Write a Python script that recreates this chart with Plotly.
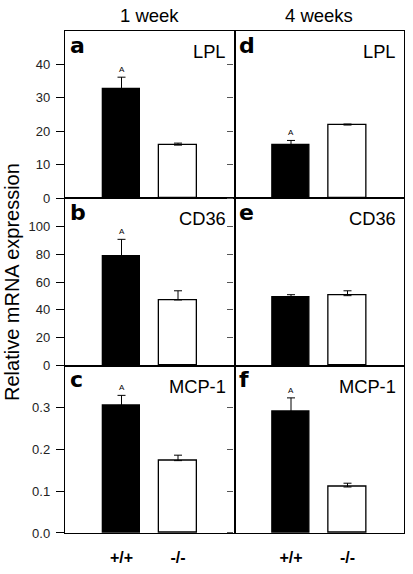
import plotly.graph_objects as go
from plotly.subplots import make_subplots

genes = ["LPL", "CD36", "MCP-1"]
groups = ["+/+", "-/-"]
columns = ["1 week", "4 weeks"]
letters_1wk = ["a", "b", "c"]
letters_4wk = ["d", "e", "f"]

wt_1wk = [32.8, 78.7, 0.305]
ko_1wk = [15.9, 47.1, 0.173]
wt_1wk_err = [3.4, 11.9, 0.024]
ko_1wk_err = [0.6, 6.6, 0.013]

wt_4wk = [16.0, 49.0, 0.290]
ko_4wk = [21.9, 50.2, 0.110]
wt_4wk_err = [1.3, 1.9, 0.033]
ko_4wk_err = [0.3, 3.5, 0.009]

sig_1wk = [True, True, True]
sig_4wk = [True, False, True]

y_ranges = [[0, 50], [0, 120], [0, 0.4]]
y_ticks = [[0, 10, 20, 30, 40], [0, 20, 40, 60, 80, 100], [0.0, 0.1, 0.2, 0.3]]
y_ticktext = [["0", "10", "20", "30", "40"], ["0", "20", "40", "60", "80", "100"],
              ["0.0", "0.1", "0.2", "0.3"]]

fig = make_subplots(rows=3, cols=2, horizontal_spacing=0, vertical_spacing=0)

cols_data = [
    (wt_1wk, ko_1wk, wt_1wk_err, ko_1wk_err, sig_1wk, letters_1wk),
    (wt_4wk, ko_4wk, wt_4wk_err, ko_4wk_err, sig_4wk, letters_4wk),
]

font_fam = "Liberation Sans, Arial, sans-serif"

for c, (wt, ko, wte, koe, sig, letters) in enumerate(cols_data):
    for r in range(3):
        row, col = r + 1, c + 1
        fig.add_trace(go.Bar(
            x=[1, 2], y=[wt[r], ko[r]], width=0.66,
            marker=dict(color=["black", "white"], line=dict(color="black", width=1.3)),
            error_y=dict(type="data", symmetric=False, array=[wte[r], koe[r]],
                         arrayminus=[0, 0], color="black", thickness=1, width=4),
            showlegend=False, hoverinfo="skip"), row=row, col=col)
        idx = r * 2 + c + 1
        xname = "x" if idx == 1 else f"x{idx}"
        yname = "y" if idx == 1 else f"y{idx}"
        if sig[r]:
            fig.add_annotation(x=1, y=wt[r] + wte[r], xref=xname, yref=yname,
                               text="A", showarrow=False, xanchor="center",
                               yanchor="bottom", yshift=1,
                               font=dict(size=8, color="black", family=font_fam))
        fig.add_annotation(x=0.015, y=0.915, xref=f"{xname} domain", yref=f"{yname} domain",
                           text=f"<b>{letters[r]}</b>", showarrow=False,
                           xanchor="left", yanchor="middle",
                           font=dict(size=22, color="black", family="DejaVu Sans, sans-serif"))
        fig.add_annotation(x=0.963, y=0.877, xref=f"{xname} domain", yref=f"{yname} domain",
                           text=genes[r], showarrow=False, xanchor="right", yanchor="middle",
                           font=dict(size=18.3, color="black", family=font_fam))
        fig.update_yaxes(range=y_ranges[r], tickvals=y_ticks[r],
                         ticktext=y_ticktext[r] if c == 0 else None,
                         showticklabels=(c == 0), ticks="outside",
                         ticklen=8 if c == 0 else 6,
                         tickcolor="black" if c == 0 else "#555", tickwidth=1,
                         ticklabelstandoff=3,
                         showline=True, mirror=True, linecolor="black", linewidth=1.4,
                         showgrid=False, zeroline=False,
                         tickfont=dict(size=13, color="#222", family=font_fam),
                         row=row, col=col)
        fig.update_xaxes(range=[0, 3], tickvals=[1, 2],
                         ticktext=[f"<b>{g}</b>" for g in groups],
                         showticklabels=(r == 2), ticks="",
                         ticklabelstandoff=10,
                         showline=True, mirror=True, linecolor="black", linewidth=1.4,
                         showgrid=False, zeroline=False,
                         tickfont=dict(size=16, color="black", family=font_fam),
                         row=row, col=col)

for c, title in enumerate(columns):
    fig.add_annotation(x=0.25 + 0.5 * c, y=1.0, xref="paper", yref="paper",
                       text=title, showarrow=False, xanchor="center", yanchor="middle",
                       yshift=16,
                       font=dict(size=18.5, color="black", family=font_fam))

fig.add_annotation(x=0, y=0.5, xref="paper", yref="paper", xshift=-53,
                   text="Relative mRNA expression", textangle=-90, showarrow=False,
                   xanchor="center", yanchor="middle",
                   font=dict(size=20, color="black", family=font_fam))

fig.update_layout(width=413, height=574, margin=dict(l=65, r=8, t=31, b=27),
                  plot_bgcolor="white", paper_bgcolor="white", bargap=0)

fig.write_html("out.html", config={"displayModeBar": False},
               post_script="document.body.style.margin='0';document.body.style.overflow='hidden';")
